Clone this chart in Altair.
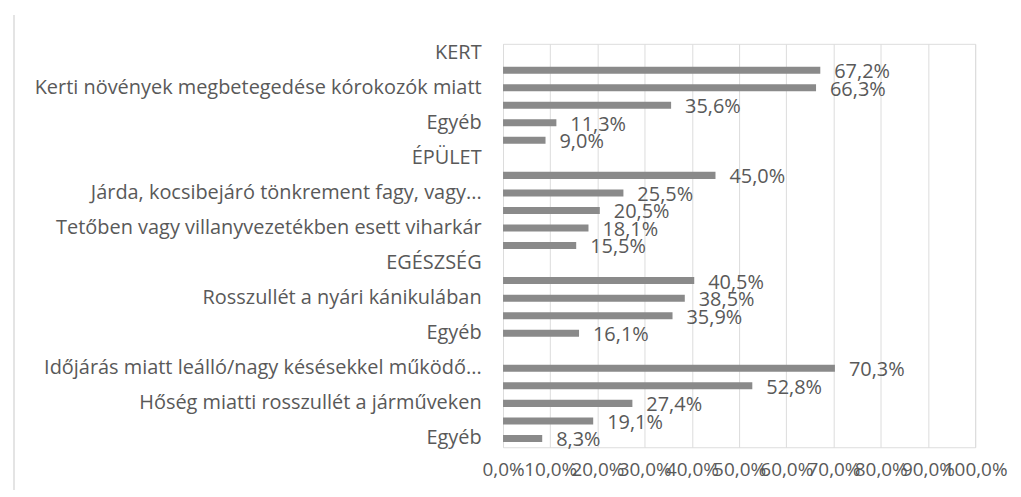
import altair as alt
import pandas as pd

# Row labels (only every other row label is shown on the axis in the original)
labels = [
    "KERT", "", "Kerti növények megbetegedése kórokozók miatt", "", "Egyéb", "",
    "ÉPÜLET", "", "Járda, kocsibejáró tönkrement fagy, vagy...", "",
    "Tetőben vagy villanyvezetékben esett viharkár", "",
    "EGÉSZSÉG", "", "Rosszullét a nyári kánikulában", "", "Egyéb", "",
    "Időjárás miatt leálló/nagy késésekkel működő...", "",
    "Hőség miatti rosszullét a járműveken", "", "Egyéb",
]
# values in %, None = header row without bar
values = [
    None, 67.2, 66.3, 35.6, 11.3, 9.0,
    None, 45.0, 25.5, 20.5, 18.1, 15.5,
    None, 40.5, 38.5, 35.9, 16.1,
    None, 70.3, 52.8, 27.4, 19.1, 8.3,
]
ticks = [0, 10, 20, 30, 40, 50, 60, 70, 80, 90, 100]

rows = list(range(len(labels)))
df = pd.DataFrame({"row": rows, "value": values})
df["frac"] = df["value"] / 100.0
df["txt"] = df["value"].map(lambda v: "" if pd.isna(v) else f"{v:.1f}".replace(".", ",") + "%")
bars_df = df.dropna(subset=["value"])

label_js = "[" + ",".join('"' + l + '"' for l in labels) + "]"

FONT = "Open Sans"
TXT = "#595959"

y_enc = alt.Y(
    "row:O",
    sort="ascending",
    scale=alt.Scale(domain=rows, paddingInner=0.6, paddingOuter=0.3),
    axis=alt.Axis(
        title=None,
        labelExpr=label_js + "[datum.value]",
        labelLimit=700,
        labelFont=FONT,
        labelFontSize=20,
        labelColor=TXT,
        labelPadding=22,
        ticks=False,
        domain=False,
        grid=False,
        minExtent=497,
        maxExtent=497,
    ),
)
x_enc = alt.X(
    "frac:Q",
    scale=alt.Scale(domain=[0, 1]),
    axis=alt.Axis(
        title=None,
        values=[t / 100 for t in ticks],
        labelExpr="replace(format(datum.value*100, '.1f'), '.', ',') + '%'",
        labelOverlap=False,
        labelFlush=False,
        labelFont=FONT,
        labelFontSize=19,
        labelColor=TXT,
        labelPadding=13,
        ticks=False,
        domain=False,
        grid=True,
        gridColor="#dcdcdc",
        gridWidth=1,
    ),
)

bars = alt.Chart(bars_df).mark_bar(color="#8a8a8a").encode(x=x_enc, y=y_enc)
text = alt.Chart(bars_df).mark_text(
    align="left", baseline="middle", dx=14, dy=2, font=FONT, fontSize=20, color=TXT
).encode(x="frac:Q", y=alt.Y("row:O", sort="ascending"), text="txt:N")

# faint scan border at the left edge
border = alt.Chart(bars_df).mark_rule(color="#e4e4e4", strokeWidth=2).encode(
    x=alt.value(-491), y=alt.value(-29), y2=alt.value(448)
)

chart = (
    alt.layer(border, bars, text)
    .properties(width=474, height=405, padding={"left": 0, "top": 5, "right": 5, "bottom": 5})
    .configure_view(stroke=None)
    .configure(background="white")
)

chart.save("out.html", embed_options={"renderer": "svg", "actions": False})
